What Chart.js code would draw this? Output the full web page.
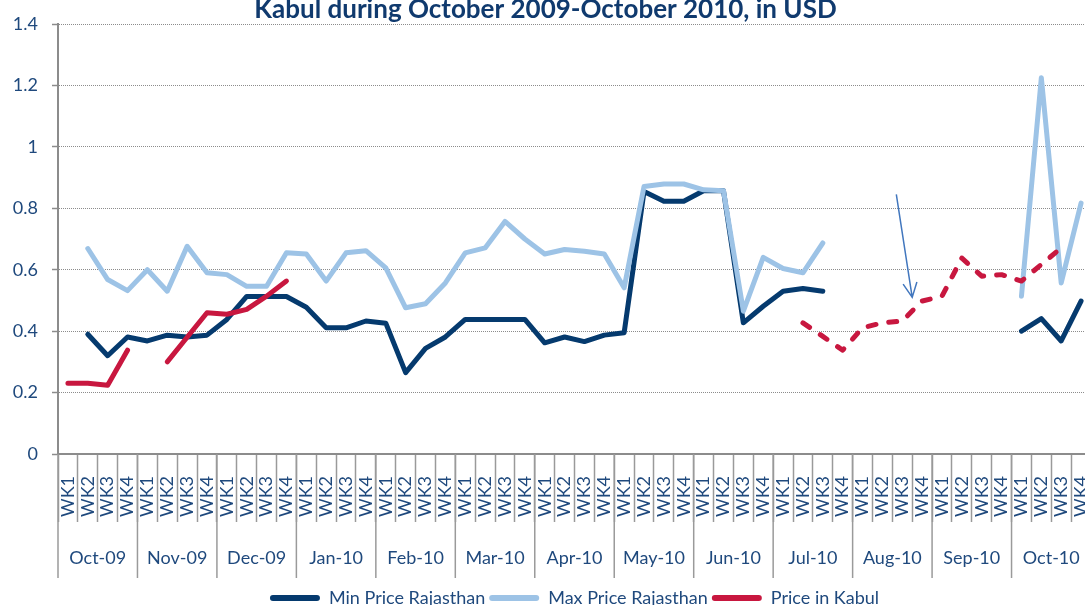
<!DOCTYPE html>
<html>
<head>
<meta charset="utf-8">
<script src="https://cdn.jsdelivr.net/npm/chart.js@4.4.1/dist/chart.umd.min.js"></script>
<style>
html, body { margin: 0; padding: 0; background: #fff; overflow: hidden; }
#wrap { position: relative; width: 1085px; height: 605px; overflow: hidden; }
#myChart { position: absolute; left: 0; top: -4px; }
</style>
</head>
<body>
<div id="wrap"><canvas id="myChart" width="1091" height="621"></canvas></div>
<script>
var months = ['Oct-09', 'Nov-09', 'Dec-09', 'Jan-10', 'Feb-10', 'Mar-10', 'Apr-10',
              'May-10', 'Jun-10', 'Jul-10', 'Aug-10', 'Sep-10', 'Oct-10'];
var weekNames = ['WK1', 'WK2', 'WK3', 'WK4'];
var categories = months.flatMap(function () { return weekNames; });
var yTicks = [0, 0.2, 0.4, 0.6, 0.8, 1, 1.2, 1.4];

var minRajasthan = [
    null, 0.39, 0.32, 0.381,   0.368, 0.387, 0.381, 0.387,   0.438, 0.513, 0.513, 0.513,
    0.478, 0.411, 0.411, 0.433,   0.426, 0.265, 0.344, 0.381,   0.438, 0.438, 0.438, 0.438,
    0.362, 0.381, 0.366, 0.387,   0.395, 0.855, 0.823, 0.823,   0.857, 0.857, 0.427, 0.481,
    0.53, 0.539, 0.53, null,   null, null, null, null,   null, null, null, null,
    0.40, 0.441, 0.368, 0.498
];
var maxRajasthan = [
    null, 0.669, 0.568, 0.532,   0.60, 0.53, 0.676, 0.59,   0.584, 0.546, 0.546, 0.655,
    0.651, 0.563, 0.655, 0.662,   0.606, 0.476, 0.489, 0.557,   0.655, 0.671, 0.757, 0.70,
    0.651, 0.666, 0.66, 0.651,   0.541, 0.871, 0.879, 0.879,   0.86, 0.857, 0.465, 0.64,
    0.604, 0.59, 0.687, null,   null, null, null, null,   null, null, null, null,
    0.514, 1.225, 0.557, 0.817
];
var priceKabul = [
    0.23, 0.23, 0.224, 0.338,   null, 0.30, 0.38, 0.46,   0.455, 0.471, 0.514, 0.563,
    null, null, null, null,   null, null, null, null,   null, null, null, null,
    null, null, null, null,   null, null, null, null,   null, null, null, null,
    null, 0.427, 0.383, 0.338,   0.411, 0.427, 0.433, 0.498,   0.514, 0.638, 0.579, 0.584,
    0.563, 0.617, 0.671, null
];
var dashedFrom = 37;            // Kabul prices from Jul-10 WK2 are dashed
var arrowFrom = [41.7, 0.845];  // note arrow, in category index / USD
var arrowTo = [42.5, 0.51];

var textColor = '#1F497D';
var axisGrey = '#8c8c8c';
var tickGrey = '#9a9a9a';
var font = { family: 'Lato', size: 18 };

// month row under the week labels + month separators
var monthAxis = {
    id: 'monthAxis',
    afterDraw: function (chart) {
        var x = chart.scales.x, ctx = chart.ctx;
        var w = x.getPixelForValue(1) - x.getPixelForValue(0);
        ctx.save();
        ctx.strokeStyle = tickGrey;
        ctx.lineWidth = 1.5;
        for (var m = 0; m <= months.length; m++) {
            var px = x.getPixelForValue(m * 4) - w / 2;
            ctx.beginPath();
            ctx.moveTo(px, x.top);
            ctx.lineTo(px, x.top + 124);
            ctx.stroke();
        }
        ctx.fillStyle = textColor;
        ctx.font = '18px Lato';
        ctx.textAlign = 'center';
        ctx.textBaseline = 'middle';
        months.forEach(function (name, m) {
            var cx = (x.getPixelForValue(m * 4) + x.getPixelForValue(m * 4 + 3)) / 2;
            ctx.fillText(name, cx, x.top + 104);
        });
        ctx.restore();
    }
};

var noteArrow = {
    id: 'noteArrow',
    afterDatasetsDraw: function (chart) {
        var x = chart.scales.x, y = chart.scales.y, ctx = chart.ctx;
        var x1 = x.getPixelForValue(arrowFrom[0]), y1 = y.getPixelForValue(arrowFrom[1]);
        var x2 = x.getPixelForValue(arrowTo[0]), y2 = y.getPixelForValue(arrowTo[1]);
        var a = Math.atan2(y2 - y1, x2 - x1);
        ctx.save();
        ctx.strokeStyle = '#4277BE';
        ctx.lineWidth = 1.5;
        ctx.beginPath();
        ctx.moveTo(x1, y1);
        ctx.lineTo(x2, y2);
        ctx.moveTo(x2 - 16 * Math.cos(a - 0.45), y2 - 16 * Math.sin(a - 0.45));
        ctx.lineTo(x2, y2);
        ctx.lineTo(x2 - 16 * Math.cos(a + 0.45), y2 - 16 * Math.sin(a + 0.45));
        ctx.stroke();
        ctx.restore();
    }
};

var ctx = document.getElementById('myChart');
var chart = new Chart(ctx, {
    type: 'line',
    data: {
        labels: categories,
        datasets: [
            {
                label: 'Min Price Rajasthan',
                data: minRajasthan,
                borderColor: '#053A6E',
                backgroundColor: '#053A6E',
                order: 3
            },
            {
                label: 'Max Price Rajasthan',
                data: maxRajasthan,
                borderColor: '#9DC3E6',
                backgroundColor: '#9DC3E6',
                order: 2
            },
            {
                label: 'Price in Kabul',
                data: priceKabul,
                borderColor: '#C8173F',
                backgroundColor: '#C8173F',
                order: 1,
                segment: {
                    borderDash: function (c) { return c.p0DataIndex >= dashedFrom ? [8, 13] : undefined; }
                }
            }
        ]
    },
    options: {
        responsive: false,
        animation: false,
        events: [],
        elements: {
            line: { borderWidth: 5, tension: 0, borderCapStyle: 'round', borderJoinStyle: 'round' },
            point: { radius: 0 }
        },
        layout: { padding: 0 },
        scales: {
            x: {
                offset: true,
                ticks: { autoSkip: false, minRotation: 90, maxRotation: 90, padding: -46, color: textColor, font: font },
                grid: { drawOnChartArea: false, offset: true, tickLength: 68, color: tickGrey, tickColor: tickGrey, tickWidth: 1.5 },
                border: { color: axisGrey, width: 2 },
                afterFit: function (s) { s.height = 131; }
            },
            y: {
                min: 0,
                max: 1.4,
                afterBuildTicks: function (s) { s.ticks = yTicks.map(function (v) { return { value: v }; }); },
                ticks: {
                    padding: 14, color: textColor, font: font,
                    callback: function (v) { return String(+v.toFixed(1)); }
                },
                grid: { color: axisGrey, lineWidth: 1, tickLength: 6, tickColor: axisGrey, tickWidth: 1.5, tickBorderDash: [] },
                border: { color: axisGrey, width: 2, dash: [1, 1] },
                afterFit: function (s) { s.width = 58; }
            }
        },
        plugins: {
            title: {
                display: true,
                text: 'Kabul during October 2009-October 2010, in USD',
                color: '#103A6E',
                font: { family: 'Lato', size: 26, weight: 'bold' },
                padding: { top: -2, bottom: -1.2 }
            },
            legend: {
                position: 'bottom',
                fullSize: false,
                labels: {
                    color: textColor,
                    font: font,
                    boxWidth: 50,
                    boxHeight: 6,
                    padding: 4,
                    useBorderRadius: true,
                    borderRadius: 3,
                    sort: function (a, b) { return a.datasetIndex - b.datasetIndex; },
                    generateLabels: function (c) {
                        var items = Chart.defaults.plugins.legend.labels.generateLabels(c);
                        items.forEach(function (it) {
                            it.fillStyle = it.strokeStyle;
                            it.lineWidth = 0;
                            it.lineDash = [];
                        });
                        return items;
                    }
                }
            },
            tooltip: { enabled: false }
        }
    },
    plugins: [monthAxis, noteArrow]
});
</script>
</body>
</html>
